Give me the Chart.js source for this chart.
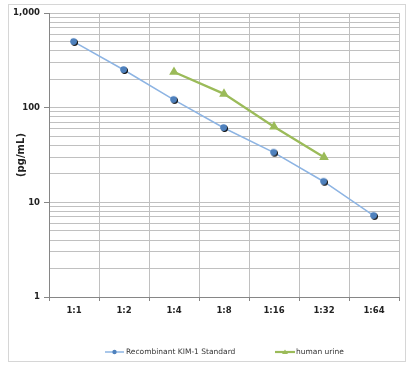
<!DOCTYPE html>
<html><head><meta charset="utf-8">
<script src="https://cdn.jsdelivr.net/npm/chart.js@4/dist/chart.umd.min.js"></script>
<style>html,body{margin:0;padding:0;background:#fff;}#wrap{width:415px;height:368px;position:relative;}</style>
</head><body><div id="wrap"><canvas id="c" width="415" height="368"></canvas></div>
<script>
const categories = ['1:1','1:2','1:4','1:8','1:16','1:32','1:64'];
const standardValues = [495, 250, 121, 61, 33.5, 16.5, 7.2];
const urineValues = [null, null, 238, 140, 63, 30, null];
const yMajorTicks = [1, 10, 100, 1000];
const seriesNames = ['Recombinant KIM-1 Standard', 'human urine'];

const BLUE_LINE = '#8db4e3';
const BLUE_MARK = '#4f81bd';
const GREEN = '#9bbb59';
const GRID = '#c0c0c0';
const AXIS = '#868686';
const FONT = '"DejaVu Sans", Verdana, sans-serif';

function blueMarker(){
  const c = document.createElement('canvas'); c.width = 10; c.height = 10;
  const g = c.getContext('2d');
  g.fillStyle = '#111'; g.beginPath(); g.arc(5.6,5.6,3.4,0,Math.PI*2); g.fill();
  g.fillStyle = BLUE_MARK; g.beginPath(); g.arc(4.6,4.6,3.4,0,Math.PI*2); g.fill();
  return c;
}
const bm = blueMarker();

const frame = {
  id:'frame',
  beforeDraw(chart){
    const g = chart.ctx; g.save();
    g.fillStyle='#fff'; g.fillRect(0,0,chart.width,chart.height);
    g.strokeStyle='#d6d6d6'; g.lineWidth=1; g.strokeRect(8.5,4.5,397,357);
    g.restore();
  }
};
const legendPlugin = {
  id:'customLegend',
  afterDraw(chart){
    const g = chart.ctx; g.save();
    const y = 352;
    g.font = '7.5px ' + FONT; g.fillStyle = '#333'; g.textBaseline='middle'; g.textAlign='left';
    g.strokeStyle = BLUE_LINE; g.lineWidth = 1.5;
    g.beginPath(); g.moveTo(105,y); g.lineTo(124,y); g.stroke();
    g.fillStyle = BLUE_MARK; g.beginPath(); g.arc(114.5,y,2.2,0,Math.PI*2); g.fill();
    g.fillStyle = '#333'; g.fillText(seriesNames[0], 126, y);
    g.strokeStyle = GREEN; g.lineWidth = 2.2;
    g.beginPath(); g.moveTo(275,y); g.lineTo(295,y); g.stroke();
    g.fillStyle = GREEN; g.beginPath(); g.moveTo(285,y-2.5); g.lineTo(288,y+2); g.lineTo(282,y+2); g.closePath(); g.fill();
    g.fillStyle = '#333'; g.fillText(seriesNames[1], 296, y);
    g.restore();
  }
};

new Chart(document.getElementById('c'), {
  type:'line',
  data:{
    labels: categories,
    datasets:[
      {label: seriesNames[0], data: standardValues, borderColor: BLUE_LINE, borderWidth:1.5,
       pointStyle: bm, pointRadius:4, backgroundColor: BLUE_MARK, tension:0, order:1},
      {label: seriesNames[1], data: urineValues, borderColor: GREEN, backgroundColor: GREEN, borderWidth:2.3,
       pointStyle:'triangle', pointRadius:3.3, tension:0, spanGaps:false, order:0}
    ]
  },
  options:{
    responsive:false, animation:false,
    layout:{padding:{left:8, right:16, top:13, bottom:0}},
    plugins:{legend:{display:false}, tooltip:{enabled:false}},
    scales:{
      x:{
        offset:true,
        grid:{offset:true, color:GRID, lineWidth:1, tickLength:4, tickColor:AXIS},
        border:{color:AXIS, width:1},
        ticks:{font:{family:FONT, size:8.5, weight:'bold'}, color:'#222', padding:5, maxRotation:0, autoSkip:false},
        afterFit(s){ s.height = 71; }
      },
      y:{
        type:'logarithmic', min:1, max:1000,
        afterBuildTicks(s){
          const t=[];
          for (let d=0; d<yMajorTicks.length; d++){
            const base = yMajorTicks[d];
            if (base===1000){ t.push({value:1000}); break; }
            for (let k=1;k<10;k++) t.push({value: base*k});
          }
          s.ticks = t;
        },
        grid:{color:GRID, lineWidth:1, tickLength:5,
          tickColor:(ctx)=> (ctx.tick && yMajorTicks.includes(ctx.tick.value)) ? AXIS : 'rgba(0,0,0,0)'},
        border:{color:AXIS, width:1},
        ticks:{autoSkip:false, padding:4, color:'#222', font:{family:FONT, size:8.5, weight:'bold'},
          callback:(v)=> yMajorTicks.includes(v) ? v.toLocaleString('en-US') : ''},
        title:{display:true, text:'(pg/mL)', font:{family:FONT, size:10, weight:'bold'}, color:'#222', padding:{top:7,bottom:0}},
        afterFit(s){ s.width = 41; }
      }
    }
  },
  plugins:[frame, legendPlugin]
});
</script></body></html>
